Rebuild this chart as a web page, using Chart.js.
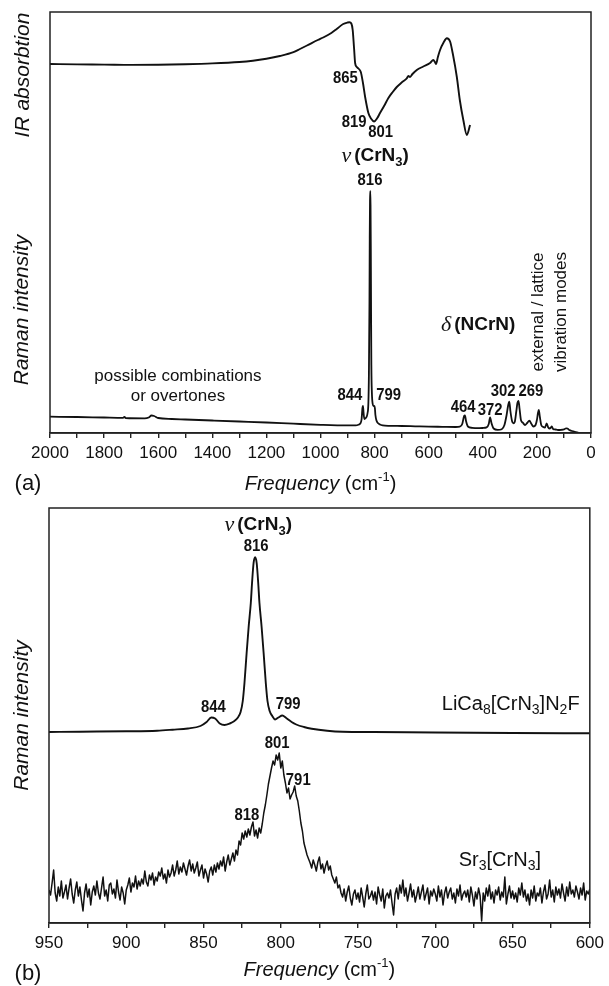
<!DOCTYPE html>
<html><head><meta charset="utf-8">
<script src="https://cdn.jsdelivr.net/npm/chart.js@4.4.1/dist/chart.umd.min.js"></script>
<style>
html,body{margin:0;padding:0;background:#fff;width:609px;height:986px;overflow:hidden;}
#c1{position:absolute;left:0;top:0;width:609px;height:500px;}
#c2{position:absolute;left:0;top:500px;width:609px;height:486px;}
</style></head><body>
<canvas id="c1" width="609" height="500"></canvas>
<canvas id="c2" width="609" height="486"></canvas>
<script>
// ---------------- DATA ----------------
// Panel (a): IR absorption (arbitrary units)
const irFreq = [2000,1900,1800,1700,1600,1500,1400,1300,1250,1200,1150,1100,1076,1050,1010,990,960,940,916,900,893,886,881,876,872,866,860,851,843,835,823,812,802,790,780,765,749,733,718,700,681,675,669,660,644,620,595,583,577,573,566,558,545,533,521,510,496,485,472,459,447];
const irValue = [369,368.6,368.4,368.1,368.3,368.8,369.6,371,372.3,374.3,377,380.8,384,387.5,393,395.5,400,404,409,410.5,410.8,409.5,403,385,370,366,364.5,361,350,336,320,314,311.5,315,320,327,335,341,346,350.5,354.7,357,356,359,363,366.5,370,373,371,369,376,383,390.5,394.7,391.5,378,356,333,313,298,308];

// Panel (a): Raman intensity (arbitrary units)
const ramanFreq = [2000,1900,1800,1730,1725,1720,1650,1635,1625,1615,1600,1550,1500,1400,1300,1200,1100,1000,900,870,860,852,848,845,843,841,838,835,830,826,823,821,819,818,817,816,815,814,813,812,810,807,804,801,799,797,793,788,780,770,750,700,650,600,550,500,485,476,469,466,462,455,440,420,400,386,378,373,368,360,345,330,320,312,306,302,298,292,287,282,276,272,268,264,259,252,244,236,228,220,213,205,200,196,193,189,184,178,170,164,159,154,148,145,140,132,122,110,100,92,87,80,70,60,47];
const ramanValue = [16.3,16,15.5,15.2,16.2,15,14.6,15.5,17.5,17,15,14,13.5,12.5,11.5,10.5,9.3,8.2,7.6,7.6,8.2,9.8,14,25,27,21,14,14.5,16,20,30,60,130,195,232,242,228,185,118,68,40,29,27,27,25,18,12.5,10,8.5,7.7,7.2,7,6.7,6.4,6.2,6,6.3,9,17,17.5,12,6.5,5.2,4.8,5,5.6,9,15.7,10,4.5,3.2,3.8,8,18,28,31.3,22,12,9.7,11,22,30,32,24,13,10.3,8,10,12.3,9,6.5,8,13,20,23,16,8,6.3,5.5,9.7,6,4.5,5.5,6.6,4,3.5,3,3.2,3.6,4.7,4.5,3,2,1.2,0.3];

// Panel (b): LiCa8[CrN3]N2F Raman (arbitrary units, offset trace)
const licaFreq = [950,930,900,880,870,860,852,848,845,842.5,839.5,836.5,833,830,828,826,824.6,823.5,822.1,820.8,819.4,818.6,817.6,816.6,815.6,814.6,813.8,812.4,811.1,809.7,808.6,807.2,805.5,803.7,801.5,799,796.5,793,790,785,780,770,760,740,700,650,600];
const licaValue = [191,191.3,191.7,192.3,193.3,194.5,197,201,205.5,204.5,199.5,198,199.5,202,205,211,222,240,270,296,320,340,360,365.7,360,340,320,296,270,240,222,212,207,203.5,205.5,207.5,205,201,198.5,196,194.3,192.3,191.3,191,190.5,190,189.7];

// Panel (b): Sr3[CrN3] Raman, one reading per cm-1 from 950 down to 600
const sr3StartFreq = 950;
const sr3StepFreq = 1;
const sr3Value = [
 33,28,40,53,30,22,36,27,42,25,
 31,38,24,35,44,29,20,33,41,27,
 36,23,12,30,39,26,34,18,31,37,
 28,42,30,24,35,46,27,33,22,38,
 40,29,34,25,43,31,23,36,30,19,
 33,38,45,31,40,36,47,34,42,37,
 44,39,52,41,37,48,43,50,38,46,
 42,51,47,55,44,49,40,53,46,50,
 58,47,53,62,49,56,51,60,54,48,
 57,63,52,59,50,55,61,47,53,58,
 45,54,49,41,52,56,48,58,51,60,
 54,62,57,66,52,61,68,58,64,70,
 62,73,68,82,78,90,84,92,86,94,
 88,96,101,87,93,85,95,90,99,110,
 118,128,139,147,155,162,158,168,163,170,
 155,162,148,140,130,135,124,128,131,137,
 127,122,112,100,92,80,74,68,64,60,
 55,63,58,52,61,66,54,59,50,57,
 62,53,57,48,44,40,46,35,38,30,
 26,34,22,31,37,25,18,29,33,24,
 30,21,35,26,16,29,38,24,27,32,
 23,31,19,36,28,22,34,15,27,30,
 25,33,20,8,29,35,24,38,30,43,
 27,35,22,30,39,26,33,21,28,36,
 24,31,38,23,29,35,19,32,27,34,
 29,22,37,26,33,18,30,36,25,31,
 35,24,30,20,34,27,38,23,29,32,
 26,33,21,36,28,17,31,24,35,27,
 2,30,22,35,27,38,24,31,20,33,
 28,36,23,31,26,46,19,29,37,25,
 32,24,30,21,35,28,40,26,33,22,
 29,18,33,25,37,22,30,27,35,20,
 31,38,24,29,43,26,33,21,36,28,
 34,25,39,30,22,36,27,41,29,33,
 26,37,31,24,35,28,40,23,32,29,
 34
];

// Tick labels
const topTickLabels = [2000,1800,1600,1400,1200,1000,800,600,400,200,0];
const botTickLabels = [950,900,850,800,750,700,650,600];

// Annotations (anchored in data coordinates: frequency, intensity)
const topPeakLabels = [
  {text:'865', freq:908, val:354},
  {text:'819', freq:876, val:310.5},
  {text:'801', freq:778, val:300.5},
  {text:'816', freq:817, val:252},
  {text:'844', freq:891, val:37},
  {text:'799', freq:748, val:37},
  {text:'464', freq:473, val:25.5},
  {text:'372', freq:373, val:22},
  {text:'302', freq:325, val:41},
  {text:'269', freq:222, val:41}
];
const topModeLabels = [
  {greek:'ν', body:'(CrN_3)', freq:798, val:277},
  {greek:'δ', body:'(NCrN)', freq:417, val:108}
];
const topNotes = [
  {text:'possible combinations', freq:1527, val:57, rot:false},
  {text:'or overtones', freq:1527, val:37, rot:false},
  {text:'external / lattice', freq:195, val:121, rot:true},
  {text:'vibration modes', freq:110, val:121, rot:true}
];
const botPeakLabels = [
  {text:'816', freq:816, val:376},
  {text:'844', freq:843.6, val:215},
  {text:'799', freq:795.3, val:218.5},
  {text:'801', freq:802.3, val:179.5},
  {text:'791', freq:788.7, val:142.5},
  {text:'818', freq:821.9, val:107.5}
];
const botModeLabels = [
  {greek:'ν', body:'(CrN_3)', freq:814.6, val:398}
];
const botFormulas = [
  {text:'LiCa_8[CrN_3]N_2F', freq:606.6, val:219},
  {text:'Sr_3[CrN_3]', freq:631.6, val:63}
];

// ---------------- DRAWING HELPERS ----------------
const SANS = '"Liberation Sans", Arial, Helvetica, sans-serif';
const SERIF = '"Liberation Serif", "Times New Roman", serif';
const INK = '#111111';
const FRAME = '#222222';

function parseRich(str){
  const out=[]; let i=0, buf='';
  while(i<str.length){
    const c=str[i];
    if((c==='_'||c==='^') && i+1<str.length){
      if(buf){out.push({t:buf,k:'n'}); buf='';}
      let t;
      if(str[i+1]==='{'){const j=str.indexOf('}',i+2); t=str.slice(i+2,j); i=j+1;}
      else {t=str[i+1]; i+=2;}
      out.push({t:t,k:c==='_'?'sub':'sup'});
    } else {buf+=c; i++;}
  }
  if(buf) out.push({t:buf,k:'n'});
  return out;
}
function richRuns(str, style, weight, size){
  return parseRich(str).map(p=>{
    if(p.k==='n') return {t:p.t, font:`${style} ${weight} ${size}px ${SANS}`, dy:0};
    const s=Math.round(size*0.68);
    return {t:p.t, font:`${style} ${weight} ${s}px ${SANS}`, dy:p.k==='sub'?size*0.32:-size*0.36};
  });
}
function drawRuns(ctx, runs, x, y, o){
  o=o||{};
  ctx.save();
  ctx.translate(x,y);
  if(o.rotate) ctx.rotate(o.rotate);
  if(o.scaleX) ctx.scale(o.scaleX,1);
  ctx.fillStyle=INK; ctx.textBaseline='middle'; ctx.textAlign='left';
  let total=0;
  const w=runs.map(r=>{ctx.font=r.font; const v=ctx.measureText(r.t).width+(r.gap||0); total+=v; return v;});
  let cx = o.align==='right' ? -total : (o.align==='left' ? 0 : -total/2);
  runs.forEach((r,i)=>{ctx.font=r.font; ctx.fillText(r.t,cx,r.dy||0); cx+=w[i];});
  ctx.restore();
}
function numLabel(ctx,t,x,y){ drawRuns(ctx,[{t:t,font:`bold 16px ${SANS}`}],x,y,{scaleX:0.93}); }
function modeLabel(ctx,g,body,x,y){
  const runs=[{t:g,font:`italic 22px ${SERIF}`,gap:3,dy:0}].concat(richRuns(body,'normal','bold',19));
  drawRuns(ctx,runs,x,y,{});
}
function freqTitle(ctx,x,y){
  drawRuns(ctx,[
    {t:'Frequency',font:`italic 20px ${SANS}`},
    {t:' (cm',font:`normal 20px ${SANS}`},
    {t:'-1',font:`normal 13px ${SANS}`,dy:-7},
    {t:')',font:`normal 20px ${SANS}`}
  ],x,y,{});
}
function yTitle(ctx,t,x,y){ drawRuns(ctx,[{t:t,font:`italic 21px ${SANS}`}],x,y,{rotate:-Math.PI/2}); }

function makeDecor(drawFn){
  return {
    id:'decor',
    afterDraw(chart){
      const ctx=chart.ctx, a=chart.chartArea;
      ctx.save();
      ctx.strokeStyle=FRAME; ctx.lineWidth=1.5;
      ctx.strokeRect(a.left,a.top,a.right-a.left,a.bottom-a.top);
      ctx.restore();
      drawFn(ctx,chart.scales.x,chart.scales.y,a);
    }
  };
}

function xAxis(min,max,step,labels,pad){
  return {
    type:'linear', min:min, max:max, reverse:true,
    afterFit:(s)=>{ s.height=30; },
    border:{display:true,color:FRAME,width:1.5},
    grid:{drawOnChartArea:false,drawTicks:true,tickLength:5,color:FRAME,lineWidth:1.4},
    ticks:{stepSize:step,autoSkip:false,maxRotation:0,minRotation:0,padding:pad,color:INK,
      font:{family:SANS,size:17},
      callback:(v)=> labels.includes(v) ? String(v) : ''}
  };
}
const lineStyle = {borderColor:'#111',pointRadius:0,fill:false,borderJoinStyle:'round'};

// ---------------- PANEL (a) ----------------
new Chart(document.getElementById('c1'),{
  type:'line',
  data:{datasets:[
    Object.assign({label:'IR', data:irFreq.map((f,i)=>({x:f,y:irValue[i]})), borderWidth:1.9, cubicInterpolationMode:'monotone'}, lineStyle),
    Object.assign({label:'Raman', data:ramanFreq.map((f,i)=>({x:f,y:ramanValue[i]})), borderWidth:1.8, cubicInterpolationMode:'monotone'}, lineStyle)
  ]},
  options:{
    responsive:false, animation:false, devicePixelRatio:1,
    layout:{padding:{left:50,right:18,top:12,bottom:37}},
    plugins:{legend:{display:false},tooltip:{enabled:false}},
    scales:{
      x:xAxis(0,2000,100,topTickLabels,5),
      y:{display:false,min:0,max:421}
    }
  },
  plugins:[makeDecor((ctx,x,y,a)=>{
    topPeakLabels.forEach(l=>numLabel(ctx,l.text,x.getPixelForValue(l.freq),y.getPixelForValue(l.val)));
    topModeLabels.forEach(l=>modeLabel(ctx,l.greek,l.body,x.getPixelForValue(l.freq),y.getPixelForValue(l.val)));
    topNotes.forEach(l=>drawRuns(ctx,[{t:l.text,font:`normal 17px ${SANS}`}],x.getPixelForValue(l.freq),y.getPixelForValue(l.val),{rotate:l.rot?-Math.PI/2:0}));
    yTitle(ctx,'IR absorbtion',a.left-26.5,y.getPixelForValue(358));
    yTitle(ctx,'Raman intensity',a.left-28,y.getPixelForValue(123));
    freqTitle(ctx,(a.left+a.right)/2,a.bottom+51);
    drawRuns(ctx,[{t:'(a)',font:`normal 22px ${SANS}`}],28,a.bottom+51,{});
  })]
});

// ---------------- PANEL (b) ----------------
new Chart(document.getElementById('c2'),{
  type:'line',
  data:{datasets:[
    Object.assign({label:'LiCa8[CrN3]N2F', data:licaFreq.map((f,i)=>({x:f,y:licaValue[i]})), borderWidth:1.9, cubicInterpolationMode:'monotone'}, lineStyle),
    Object.assign({label:'Sr3[CrN3]', data:sr3Value.map((v,i)=>({x:sr3StartFreq-i*sr3StepFreq,y:v})), borderWidth:1.5, tension:0}, lineStyle)
  ]},
  options:{
    responsive:false, animation:false, devicePixelRatio:1,
    layout:{padding:{left:49,right:17,top:8,bottom:33}},
    plugins:{legend:{display:false},tooltip:{enabled:false}},
    scales:{
      x:xAxis(600,950,25,botTickLabels,5),
      y:{display:false,min:0,max:415}
    }
  },
  plugins:[makeDecor((ctx,x,y,a)=>{
    botPeakLabels.forEach(l=>numLabel(ctx,l.text,x.getPixelForValue(l.freq),y.getPixelForValue(l.val)));
    botModeLabels.forEach(l=>modeLabel(ctx,l.greek,l.body,x.getPixelForValue(l.freq),y.getPixelForValue(l.val)));
    botFormulas.forEach(l=>drawRuns(ctx,richRuns(l.text,'normal','normal',20),x.getPixelForValue(l.freq),y.getPixelForValue(l.val),{align:'right'}));
    yTitle(ctx,'Raman intensity',a.left-27,y.getPixelForValue(207.5));
    freqTitle(ctx,(a.left+a.right)/2,a.bottom+47);
    drawRuns(ctx,[{t:'(b)',font:`normal 22px ${SANS}`}],28,a.bottom+51,{});
  })]
});
</script>
</body></html>
